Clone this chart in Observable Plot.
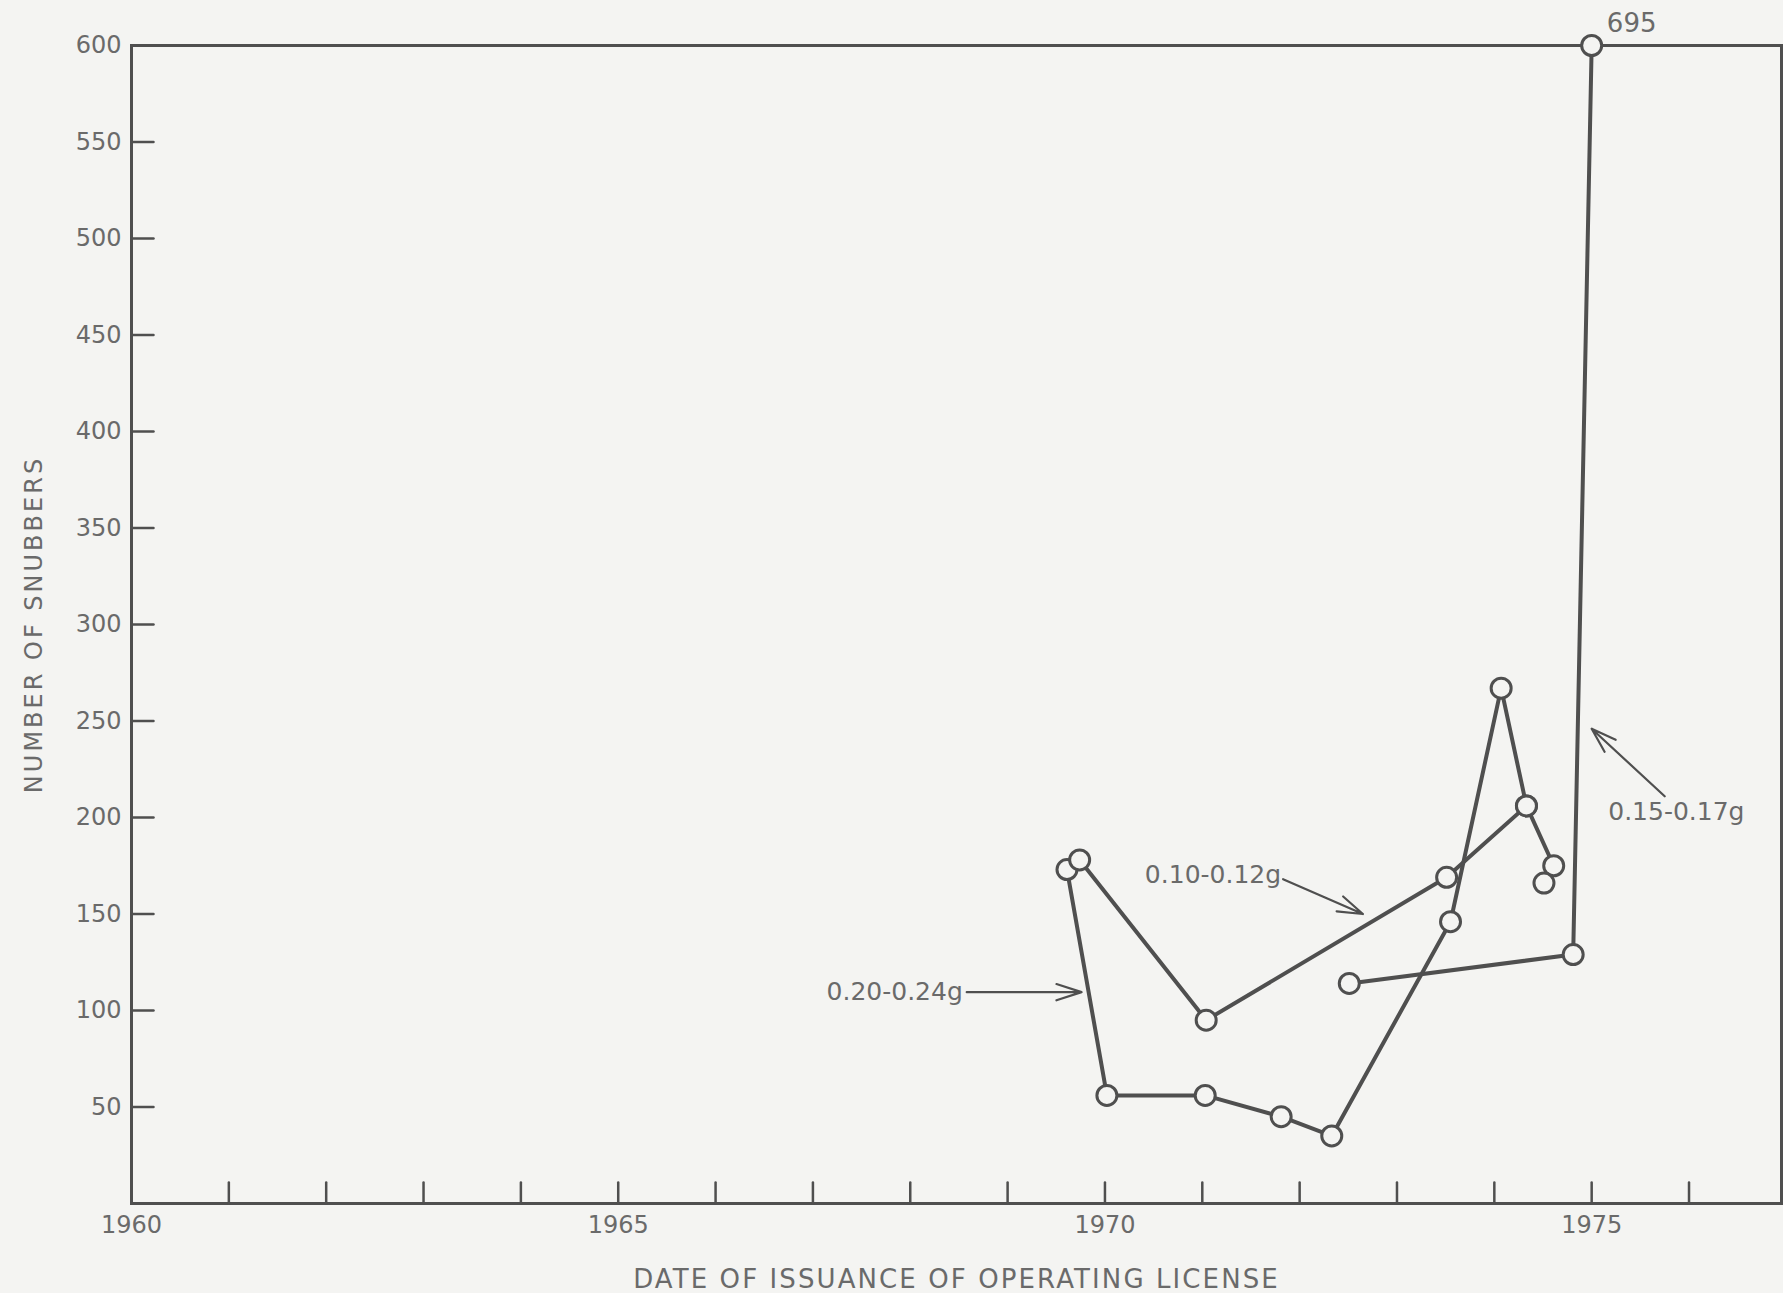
<!DOCTYPE html>
<html>
<head>
<meta charset="utf-8">
<script src="https://cdn.jsdelivr.net/npm/d3@7"></script>
<script src="https://cdn.jsdelivr.net/npm/@observablehq/plot@0.6"></script>
<style>
  html, body { margin: 0; padding: 0; background: #f4f4f2; }
  #chart { width: 1783px; height: 1293px; }
</style>
</head>
<body>
<div id="chart"></div>
<script>
// ---- data ----
const years020 = [1969.61, 1970.02, 1971.03, 1971.81, 1972.33, 1973.55, 1974.07, 1974.33, 1974.61, 1974.51];
const snubbers020 = [173, 56, 56, 45, 35, 146, 267, 206, 175, 166];

const years010 = [1969.74, 1971.04, 1973.51, 1974.33];
const snubbers010 = [178, 95, 169, 206];

const years015 = [1972.51, 1974.81, 1975.0];
const snubbers015 = [114, 129, 695];

const xLabelYears = [1960, 1965, 1970, 1975];
const xTickYears = [1961, 1962, 1963, 1964, 1965, 1966, 1967, 1968, 1969, 1970, 1971, 1972, 1973, 1974, 1975, 1976];
const yLabelValues = [50, 100, 150, 200, 250, 300, 350, 400, 450, 500, 550, 600];
const yTickValues = [50, 100, 150, 200, 250, 300, 350, 400, 450, 500, 550];

const seriesNames = ["0.20-0.24g", "0.10-0.12g", "0.15-0.17g"];
// annotations: label, text anchor point, arrow start, arrow end (data units)
const annoLabel = ["0.20-0.24g", "0.10-0.12g", "0.15-0.17g"];
const annoTextX = [1968.56, 1971.83, 1975.17];
const annoTextY = [109.5, 170, 203];
const annoAnchor = ["end", "end", "start"];
const arrowX1 = [1968.58, 1971.83, 1975.75];
const arrowY1 = [109.5, 168, 211];
const arrowX2 = [1969.76, 1972.65, 1975.0];
const arrowY2 = [109.5, 150, 246];

const xTitle = "DATE OF ISSUANCE OF OPERATING LICENSE";
const yTitle = "NUMBER OF SNUBBERS";

// ---- build tables ----
const toRows = (name, xs, ys) => xs.map((x, i) => ({series: name, year: x, value: ys[i]}));
const rows = [
  ...toRows(seriesNames[0], years020, snubbers020),
  ...toRows(seriesNames[1], years010, snubbers010),
  ...toRows(seriesNames[2], years015, snubbers015)
];
const peak = rows.filter(d => d.value > 600);
const annos = annoLabel.map((t, i) => ({
  text: t, tx: annoTextX[i], ty: annoTextY[i], anchor: annoAnchor[i],
  x1: arrowX1[i], y1: arrowY1[i], x2: arrowX2[i], y2: arrowY2[i]
}));

const ink = "#4f4f4f";
const textInk = "#6a6a6a";
const bg = "#f4f4f2";

const tickUp = {draw(ctx, l) { ctx.moveTo(0, 0); ctx.lineTo(0, -l); }};
const tickRight = {draw(ctx, l) { ctx.moveTo(0, 0); ctx.lineTo(l, 0); }};

const chart = Plot.plot({
  width: 1783,
  height: 1293,
  marginTop: 45,
  marginLeft: 131,
  marginRight: 2,
  marginBottom: 90,
  style: {background: bg, fontFamily: "DejaVu Sans", fontSize: "24px", color: textInk},
  x: {domain: [1960, 1976.95]},
  y: {domain: [0, 600], clamp: true},
  marks: [
    Plot.frame({stroke: ink, strokeWidth: 3}),
    Plot.vector(xTickYears, {x: d => d, frameAnchor: "bottom", length: 21, anchor: "start", shape: tickUp, stroke: ink, strokeWidth: 2.5}),
    Plot.vector(yTickValues, {y: d => d, frameAnchor: "left", length: 22, anchor: "start", shape: tickRight, stroke: ink, strokeWidth: 2.5}),
    Plot.axisX({ticks: xLabelYears, tickSize: 0, tickPadding: 12, tickFormat: d => String(d), label: null, fill: textInk, fontSize: 24}),
    Plot.axisY({ticks: yLabelValues, tickSize: 0, tickPadding: 10, label: null, fill: textInk, fontSize: 24}),
    Plot.text([xTitle], {frameAnchor: "bottom", dy: 84, text: d => d, textAnchor: "middle", fill: textInk, fontSize: 26, ariaLabel: () => "x title"}),
    Plot.text([yTitle], {frameAnchor: "left", dx: -97, rotate: -90, textAnchor: "middle", text: d => d, fill: textInk, fontSize: 24, ariaLabel: () => "y title"}),
    Plot.line(rows, {x: "year", y: "value", z: "series", stroke: ink, strokeWidth: 4, curve: "linear"}),
    Plot.dot(rows, {x: "year", y: "value", r: 10, stroke: ink, strokeWidth: 3, fill: bg}),
    Plot.text(peak, {x: "year", y: "value", text: d => String(d.value), dx: 40, dy: -22, fill: textInk, fontSize: 26}),
    Plot.arrow(annos, {x1: "x1", y1: "y1", x2: "x2", y2: "y2", stroke: ink, strokeWidth: 2.2, headLength: 18, headAngle: 36, bend: 0}),
    Plot.text(annos.filter(d => d.anchor === "end"), {x: "tx", y: "ty", text: "text", textAnchor: "end", dx: -2, fill: textInk, fontSize: 25}),
    Plot.text(annos.filter(d => d.anchor === "start"), {x: "tx", y: "ty", text: "text", textAnchor: "start", fill: textInk, fontSize: 25})
  ]
});
document.getElementById("chart").appendChild(chart);
// letter spacing for the two axis titles
d3.select(chart).selectAll("text").each(function () {
  const t = this.textContent;
  if (t === xTitle) this.style.letterSpacing = "2.1px";
  if (t === yTitle) this.style.letterSpacing = "3px";
});
</script>
</body>
</html>
